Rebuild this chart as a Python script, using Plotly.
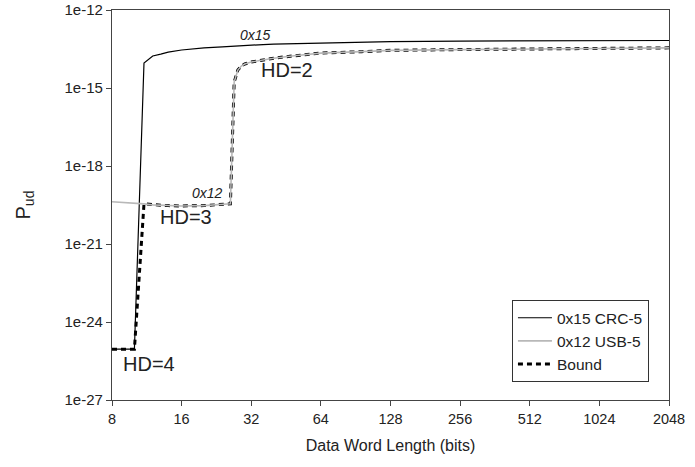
import plotly.graph_objects as go

# Data word length (bits)
x_bits = [8, 9, 10, 11, 12, 13, 14, 16, 20, 24, 26, 27, 28, 29, 30, 32, 36, 40, 48, 64, 96, 128, 256, 512, 1024, 2048]

# 0x15 CRC-5 Pud values
crc5_0x15 = [9e-26, 9e-26, 9e-26, 9.1e-15, 1.7e-14, 2.0e-14, 2.4e-14, 2.9e-14, 3.5e-14, 3.8e-14, 4.0e-14,
             4.05e-14, 4.1e-14, 4.2e-14, 4.3e-14, 4.5e-14, 4.7e-14, 4.9e-14, 5.1e-14, 5.6e-14, 5.9e-14,
             6.1e-14, 6.4e-14, 6.5e-14, 6.6e-14, 6.7e-14]

# 0x12 USB-5 Pud values
usb5_0x12 = [4.2e-20, 4.0e-20, 3.8e-20, 3.5e-20, 3.2e-20, 3.1e-20, 3.0e-20, 2.9e-20, 3.0e-20, 3.2e-20, 3.5e-20,
             1.7e-15, 4.9e-15, 7.0e-15, 8.4e-15, 1.0e-14, 1.2e-14, 1.4e-14, 1.7e-14, 2.2e-14, 2.5e-14,
             2.8e-14, 3.0e-14, 3.1e-14, 3.3e-14, 3.5e-14]

# Bound = best achievable Pud (minimum of the two)
bound = [min(a, b) for a, b in zip(crc5_0x15, usb5_0x12)]

x_ticks = [8, 16, 32, 64, 128, 256, 512, 1024, 2048]
x_tick_labels = ["8", "16", "32", "64", "128", "256", "512", "1024", "2048"]
y_ticks = [1e-12, 1e-15, 1e-18, 1e-21, 1e-24, 1e-27]
y_tick_labels = ["1e-12", "1e-15", "1e-18", "1e-21", "1e-24", "1e-27"]

FONT = "Liberation Sans, Arial, sans-serif"
TXT = "#222222"

fig = go.Figure()
fig.add_trace(go.Scatter(x=x_bits, y=bound, mode="lines", name="Bound", legendrank=3,
                         line=dict(color="black", width=3, dash="5px,4px")))
fig.add_trace(go.Scatter(x=x_bits, y=crc5_0x15, mode="lines", name="0x15 CRC-5", legendrank=1,
                         line=dict(color="black", width=1.2)))
fig.add_trace(go.Scatter(x=x_bits, y=usb5_0x12, mode="lines", name="0x12 USB-5", legendrank=2,
                         line=dict(color="#b8b8b8", width=1.6)))

ann = [
    ("<i>0x15</i>", 0.2585, 0.935, 14),
    ("<i>0x12</i>", 0.1706, 0.530, 14),
    ("HD=2", 0.3142, 0.845, 20),
    ("HD=3", 0.1329, 0.468, 20),
    ("HD=4", 0.0664, 0.092, 20),
]
for t, ax, ay, fs in ann:
    fig.add_annotation(text=t, x=ax, y=ay, xref="paper", yref="paper", showarrow=False,
                       xanchor="center", yanchor="middle", font=dict(size=fs, color=TXT, family=FONT))

fig.update_layout(
    width=695, height=467,
    margin=dict(l=112, r=26, t=10, b=67),
    paper_bgcolor="white", plot_bgcolor="white",
    font=dict(family=FONT, color=TXT, size=14),
    showlegend=True,
    legend=dict(x=0.964, y=0.256, xanchor="right", yanchor="top",
                bgcolor="white", bordercolor="#333", borderwidth=1,
                font=dict(size=15.5, color=TXT, family=FONT),
                tracegroupgap=0, itemwidth=34),
    xaxis=dict(type="log", range=[0.90309, 3.31133], tickmode="array", tickvals=x_ticks,
               ticktext=x_tick_labels, ticks="outside", ticklen=5, tickcolor="#444",
               tickfont=dict(size=14.5), automargin=False,
               showline=True, linecolor="#444", linewidth=1.3, mirror=True,
               showgrid=False, zeroline=False,
               title=dict(text="Data Word Length (bits)", font=dict(size=16, color=TXT, family=FONT), standoff=14)),
    yaxis=dict(type="log", range=[-27, -12], tickmode="array", tickvals=y_ticks,
               ticktext=y_tick_labels, ticks="outside", ticklen=5, tickcolor="#444",
               tickfont=dict(size=15), automargin=False,
               showline=True, linecolor="#444", linewidth=1.3, mirror=True,
               showgrid=False, zeroline=False,
               title=dict(text="P<sub>ud</sub>", font=dict(size=20, color=TXT, family=FONT), standoff=28)),
)

# remove the browser's default body margin so the 695x467 figure fills the window exactly
fig.write_html("out.html", config={"displayModeBar": False},
               post_script="document.body.style.margin='0';document.body.style.padding='0';"
                           "document.body.style.overflow='hidden';")
